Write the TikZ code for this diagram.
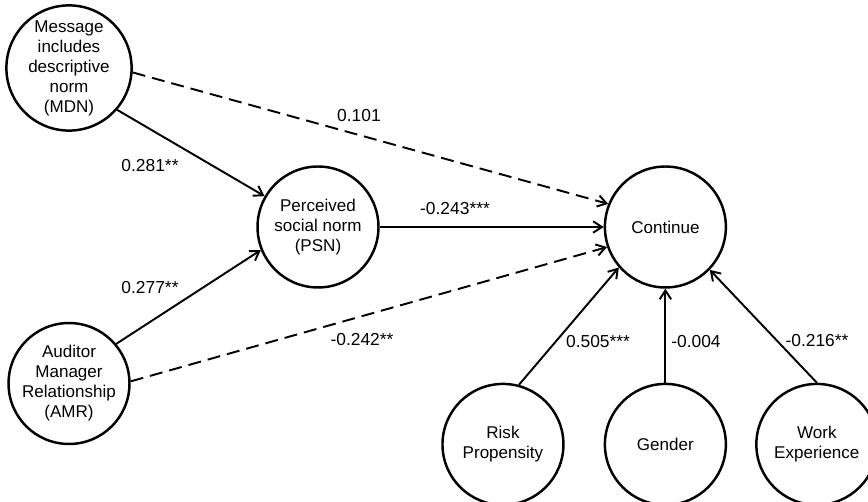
\documentclass[tikz,border=0pt]{standalone}
\usepackage{fontspec}
\setmainfont{Liberation Sans}
\usetikzlibrary{arrows.meta,positioning}
\tikzset{
  var/.style={draw,circle,line width=1.4pt,minimum size=2.42cm,inner sep=0pt,align=center,font=\fontsize{9.7}{11.4}\selectfont},
  arr/.style={-{Straight Barb[length=5pt,width=6.5pt]},line width=1.1pt},
  darr/.style={arr,dash pattern=on 0.26cm off 0.14cm},
  lbl/.style={font=\fontsize{9.9}{11.4}\selectfont,inner sep=1pt}
}
\begin{document}
\begin{tikzpicture}[x=0.02cm,y=-0.02cm]
  \useasboundingbox (0,0) rectangle (868,502);
  \node[var] (mdn) at (69,68) {Message\\includes\\descriptive\\norm\\(MDN)};
  \node[var, below=3.8cm of mdn] (amr) {Auditor\\Manager\\Relationship\\(AMR)};
  \node[var] (psn) at (318,227) {Perceived\\social norm\\(PSN)};
  \node[var, right=4.48cm of psn] (cont) {Continue};
  \node[var, below=1.88cm of cont] (gender) {Gender};
  \node[var, left=0.78cm of gender] (risk) {Risk\\Propensity};
  \node[var, right=0.56cm of gender] (work) {Work\\Experience};

  \draw[arr] (mdn.-41)--(psn.150);
  \draw[arr] (amr.40)--(psn.202);
  \draw[darr] (mdn.-4)--(cont.158);
  \draw[darr] (amr.2)--(cont.199);
  \draw[arr] (psn.east)--(cont.west);
  \draw[arr] (risk.75)--(cont.221);
  \draw[arr] (gender.north)--(cont.south);
  \draw[arr] (work.north)--(cont.-44);

  \node[lbl] (b101) at (359,116) {0.101};
  \node[lbl] (b281) at (150,166) {0.281**};
  \node[lbl] (b277) at (150,288) {0.277**};
  \node[lbl] (b242) at (362,340) {-0.242**};
  \node[lbl] (b243) at (455,209) {-0.243***};
  \node[lbl] (b505) at (598,342) {0.505***};
  \node[lbl] (b004) at (696,342) {-0.004};
  \node[lbl] (b216) at (817,341) {-0.216**};
\end{tikzpicture}
\end{document}
